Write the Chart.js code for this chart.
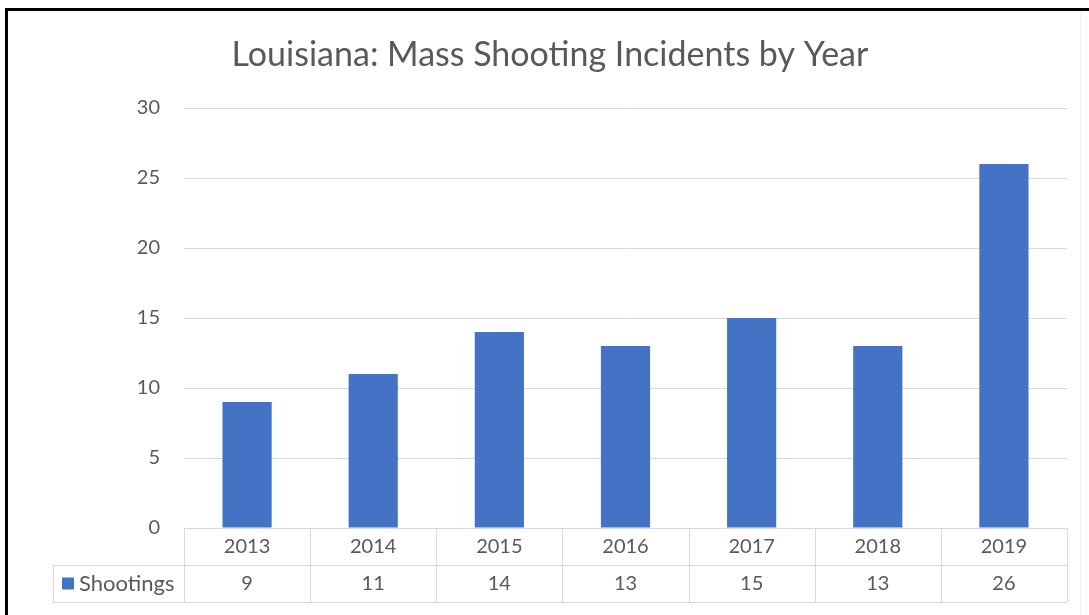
<!DOCTYPE html>
<html>
<head>
<meta charset="utf-8">
<script src="https://cdn.jsdelivr.net/npm/chart.js@4/dist/chart.umd.min.js"></script>
<style>
  html, body { margin: 0; padding: 0; background: #fff; }
  #wrap { position: relative; width: 1089px; height: 615px; overflow: hidden; background: #fff; }
  #wrap canvas { position: absolute; left: 0; top: 0; }
  #frame { position: absolute; left: 5px; top: 8px; width: 1200px; height: 700px;
           border-top: 3px solid #000; border-left: 3px solid #000; pointer-events: none; }
  #edge { position: absolute; left: 1080px; top: 11px; width: 1px; height: 604px; background: #f0f0f0; }
</style>
</head>
<body>
<div id="wrap">
  <canvas id="c" width="1089" height="615"></canvas>
  <div id="edge"></div>
  <div id="frame"></div>
</div>
<script>
// ---- data ----
const title = 'Louisiana: Mass Shooting Incidents by Year';
const years = ['2013', '2014', '2015', '2016', '2017', '2018', '2019'];
const seriesName = 'Shootings';
const shootings = [9, 11, 14, 13, 15, 13, 26];
const yMin = 0, yMax = 30, yStep = 5;

// ---- style ----
const FONT = "Lato, 'Open Sans', 'Liberation Sans', sans-serif";
const TEXT = '#595959';
const GRID = '#d9d9d9';
const BAR = '#4472C4';
const ROW_H = 37;
const LEGEND_LEFT = 53;
const TITLE_X = 550, TITLE_Y = 55;

const titlePlugin = {
  id: 'excelTitle',
  afterDraw(chart) {
    const ctx = chart.ctx;
    ctx.save();
    ctx.fillStyle = TEXT;
    ctx.font = '34px ' + FONT;
    ctx.textAlign = 'center';
    ctx.textBaseline = 'middle';
    ctx.fillText(title, TITLE_X, TITLE_Y);
    ctx.restore();
  }
};

const dataTable = {
  id: 'dataTable',
  afterDraw(chart) {
    const ctx = chart.ctx;
    const xs = chart.scales.x;
    const area = chart.chartArea;
    const n = years.length;
    const w = (area.right - area.left) / n;
    const y0 = area.bottom, y1 = y0 + ROW_H, y2 = y1 + ROW_H;
    ctx.save();
    ctx.strokeStyle = GRID;
    ctx.lineWidth = 1;
    ctx.beginPath();
    ctx.moveTo(area.left, y0 + 0.5); ctx.lineTo(area.right, y0 + 0.5);
    ctx.moveTo(LEGEND_LEFT, y1 + 0.5); ctx.lineTo(area.right, y1 + 0.5);
    ctx.moveTo(LEGEND_LEFT, y2 + 0.5); ctx.lineTo(area.right, y2 + 0.5);
    for (let i = 0; i <= n; i++) {
      const x = Math.round(area.left + i * w) + 0.5;
      ctx.moveTo(x, y0); ctx.lineTo(x, y2);
    }
    ctx.moveTo(LEGEND_LEFT + 0.5, y1); ctx.lineTo(LEGEND_LEFT + 0.5, y2);
    ctx.stroke();

    const cy = (y1 + y2) / 2;
    ctx.fillStyle = BAR;
    ctx.fillRect(LEGEND_LEFT + 9, cy - 6, 12, 12);
    ctx.fillStyle = TEXT;
    ctx.textBaseline = 'middle';
    ctx.textAlign = 'left';
    ctx.font = '22px ' + FONT;
    ctx.fillText(seriesName, LEGEND_LEFT + 26, cy);
    ctx.font = '20px ' + FONT;
    ctx.textAlign = 'center';
    shootings.forEach((v, i) => {
      ctx.fillText(String(v), xs.getPixelForValue(i), cy);
    });
    ctx.restore();
  }
};

new Chart(document.getElementById('c'), {
  type: 'bar',
  data: {
    labels: years,
    datasets: [{
      label: seriesName,
      data: shootings,
      backgroundColor: BAR,
      borderWidth: 0,
      categoryPercentage: 1,
      barPercentage: 0.39
    }]
  },
  options: {
    responsive: false,
    animation: false,
    devicePixelRatio: 1,
    layout: { padding: { left: 0, right: 22, top: 108, bottom: 0 } },
    plugins: {
      legend: { display: false },
      tooltip: { enabled: false },
      title: { display: false }
    },
    scales: {
      x: {
        grid: { display: false, drawTicks: false },
        border: { display: false },
        ticks: { color: TEXT, font: { family: FONT, size: 20 }, padding: 7 },
        afterFit(scale) { scale.height = 87; }
      },
      y: {
        min: yMin, max: yMax,
        grid: { color: GRID, drawTicks: false },
        border: { display: false },
        ticks: { stepSize: yStep, color: TEXT, font: { family: FONT, size: 20 }, padding: 24 },
        afterFit(scale) { scale.width = 184; }
      }
    }
  },
  plugins: [dataTable, titlePlugin]
});
</script>
</body>
</html>
